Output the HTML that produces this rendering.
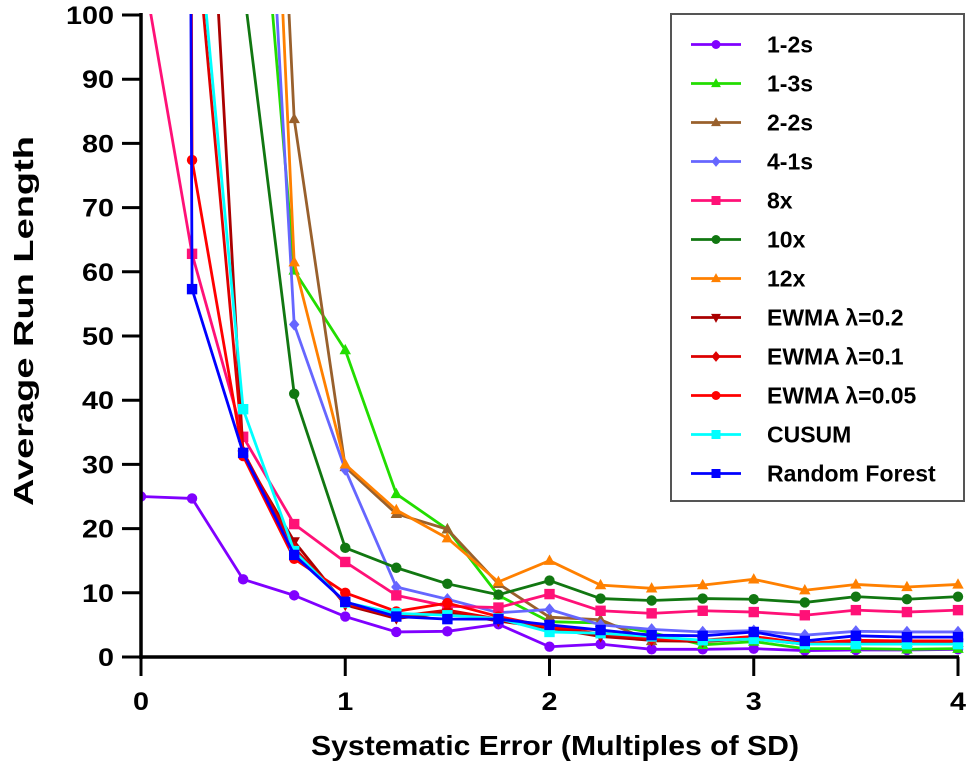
<!DOCTYPE html>
<html><head><meta charset="utf-8"><style>
html,body{margin:0;padding:0;background:#fff;}
svg{display:block;font-family:"Liberation Sans",Arial,sans-serif;font-weight:bold;}
</style></head><body>
<svg id="chart" width="972" height="769" viewBox="0 0 972 769">
<defs><clipPath id="plotclip"><rect x="141" y="14" width="830" height="645"/></clipPath></defs>
<g id="series" clip-path="url(#plotclip)"></g>
<g id="axes"></g>
<g id="legend"></g>
<text x="555" y="755" text-anchor="middle" font-size="28" textLength="488" lengthAdjust="spacingAndGlyphs">Systematic Error (Multiples of SD)</text>
<text transform="translate(33,321) rotate(-90)" text-anchor="middle" font-size="28" textLength="370" lengthAdjust="spacingAndGlyphs">Average Run Length</text>
</svg>
<script>
const xs = [0,0.25,0.5,0.75,1,1.25,1.5,1.75,2,2.25,2.5,2.75,3,3.25,3.5,3.75,4];
const xTicks = [0,1,2,3,4];
const yTicks = [0,10,20,30,40,50,60,70,80,90,100];
const names = ["1-2s","1-3s","2-2s","4-1s","8x","10x","12x","EWMA λ=0.2","EWMA λ=0.1","EWMA λ=0.05","CUSUM","Random Forest"];
const s12 = [25,24.7,12.1,9.6,6.3,3.9,4.0,5.1,1.6,2.0,1.2,1.2,1.3,1.0,1.1,1.1,1.2];
const s13 = [400,300,155,60.2,47.8,25.4,19.9,9.6,5.5,5.3,3.8,1.9,2.4,1.3,1.3,1.2,1.3];
const s22 = [400,350,246,83.8,29.6,22.3,19.9,11.4,6.2,5.8,2.5,2.5,2.8,2.0,2.2,2.2,2.2];
const s41 = [400,300,195,51.8,29.2,10.9,9.0,6.9,7.4,5.0,4.3,3.9,4.1,3.4,4.0,3.9,3.9];
const s8x = [109,62.8,34.3,20.7,14.8,9.6,7.9,7.7,9.8,7.2,6.8,7.2,7.0,6.5,7.3,7.0,7.3];
const s10x = [400,300,105,41.0,17.0,13.9,11.4,9.7,11.9,9.1,8.8,9.1,9.0,8.5,9.4,9.0,9.4];
const s12x = [400,350,236,61.5,30.0,22.9,18.5,11.7,15.0,11.2,10.7,11.2,12.1,10.4,11.3,10.9,11.3];
const sE2 = [400,174,31.5,18.0,8.1,6.0,6.9,5.6,4.5,3.2,2.6,2.4,2.9,2.0,2.3,2.2,2.2];
const sE1 = [400,120,32.0,17.0,8.3,6.3,7.3,5.9,4.6,3.6,2.8,2.5,3.0,2.1,2.5,2.4,2.4];
const sE05 = [2000,77.4,31.3,15.3,10.0,7.1,8.4,6.3,4.7,4.2,2.9,2.6,3.2,2.1,2.6,2.5,2.5];
const sCU = [400,124,38.6,16.5,8.5,6.8,6.5,6.0,3.9,3.7,3.2,2.6,2.8,2.0,2.0,2.0,2.0];
const sRF = [2000,57.3,31.8,15.9,8.6,6.3,5.9,5.9,5.0,4.2,3.4,3.3,3.9,2.5,3.3,3.1,3.1];
const seriesVals = [s12,s13,s22,s41,s8x,s10x,s12x,sE2,sE1,sE05,sCU,sRF];
const colors = ["#8000ff","#22dd00","#99602c","#6666ff","#ff1177","#117711","#ff8000","#aa0000","#dd0000","#ff0000","#00ffff","#0000ff"];
const markers = ["circle","tri","tri","diamond","square","circle","tri","tridown","diamond","circle","square","square"];

const X = v => 141 + v * 204.25;
const Y = v => 657 - v * 6.42;
const NS = "http://www.w3.org/2000/svg";
function mk(tag, attrs, parent){const e=document.createElementNS(NS,tag);for(const k in attrs)e.setAttribute(k,attrs[k]);parent.appendChild(e);return e;}
function marker(g, type, cx, cy, c, r){
  let e;
  if(type==="circle") e=mk("circle",{cx:cx,cy:cy,r:r,fill:c},g);
  else if(type==="square") e=mk("rect",{x:cx-r,y:cy-r,width:2*r,height:2*r,fill:c},g);
  else if(type==="tri") e=mk("polygon",{points:`${cx},${cy-r*1.2} ${cx-r*1.1},${cy+r*0.8} ${cx+r*1.1},${cy+r*0.8}`,fill:c},g);
  else if(type==="tridown") e=mk("polygon",{points:`${cx},${cy+r*1.2} ${cx-r*1.1},${cy-r*0.8} ${cx+r*1.1},${cy-r*0.8}`,fill:c},g);
  else e=mk("polygon",{points:`${cx},${cy-r*1.2} ${cx+r},${cy} ${cx},${cy+r*1.2} ${cx-r},${cy}`,fill:c},g);
  return e;
}
const sg = document.getElementById("series");
seriesVals.forEach((vals,i)=>{
  const g = mk("g",{},sg);
  
  
  const pl = mk("polyline",{points:vals.map((v,j)=>X(xs[j])+","+Y(v)).join(" "),fill:"none",stroke:colors[i],"stroke-width":2.8,"stroke-linejoin":"round"},g);
  
  
  vals.forEach((v,j)=>{
    if(v<=101){
      const m = marker(g, markers[i], X(xs[j]), Y(v), colors[i], 5.2);
      
      
    }
  });
});
const ax = document.getElementById("axes");
const yl = mk("line",{x1:141,y1:13,x2:141,y2:659,stroke:"#000","stroke-width":3.5},ax);


const xl = mk("line",{x1:139,y1:657,x2:959,y2:657,stroke:"#000","stroke-width":3.5},ax);


yTicks.forEach(t=>{
  mk("line",{x1:122,y1:Y(t),x2:141,y2:Y(t),stroke:"#000","stroke-width":3},ax);
  const s = String(t);
  const tx = mk("text",{x:114,y:Y(t)+9,"text-anchor":"end","font-size":25,textLength:16*s.length,lengthAdjust:"spacingAndGlyphs"},ax);
  tx.textContent = s;
  
  
});
xTicks.forEach(t=>{
  mk("line",{x1:X(t),y1:657,x2:X(t),y2:676,stroke:"#000","stroke-width":3},ax);
  const tx = mk("text",{x:X(t),y:710,"text-anchor":"middle","font-size":25,textLength:16,lengthAdjust:"spacingAndGlyphs"},ax);
  tx.textContent = t;
  
  
});
const lg = document.getElementById("legend");
const box = mk("rect",{x:671,y:14,width:293,height:487,fill:"#fff",stroke:"#555","stroke-width":2},lg);


names.forEach((n,i)=>{
  const y = 44.5 + i*39;
  const eg = mk("g",{},lg);
  
  
  mk("line",{x1:691,y1:y,x2:741,y2:y,stroke:colors[i],"stroke-width":2.8},eg);
  marker(eg, markers[i], 716, y, colors[i], 4.5);
  const tx = mk("text",{x:767,y:y+8,"font-size":23},eg);
  tx.textContent = n;
});
</script>
</body></html>
